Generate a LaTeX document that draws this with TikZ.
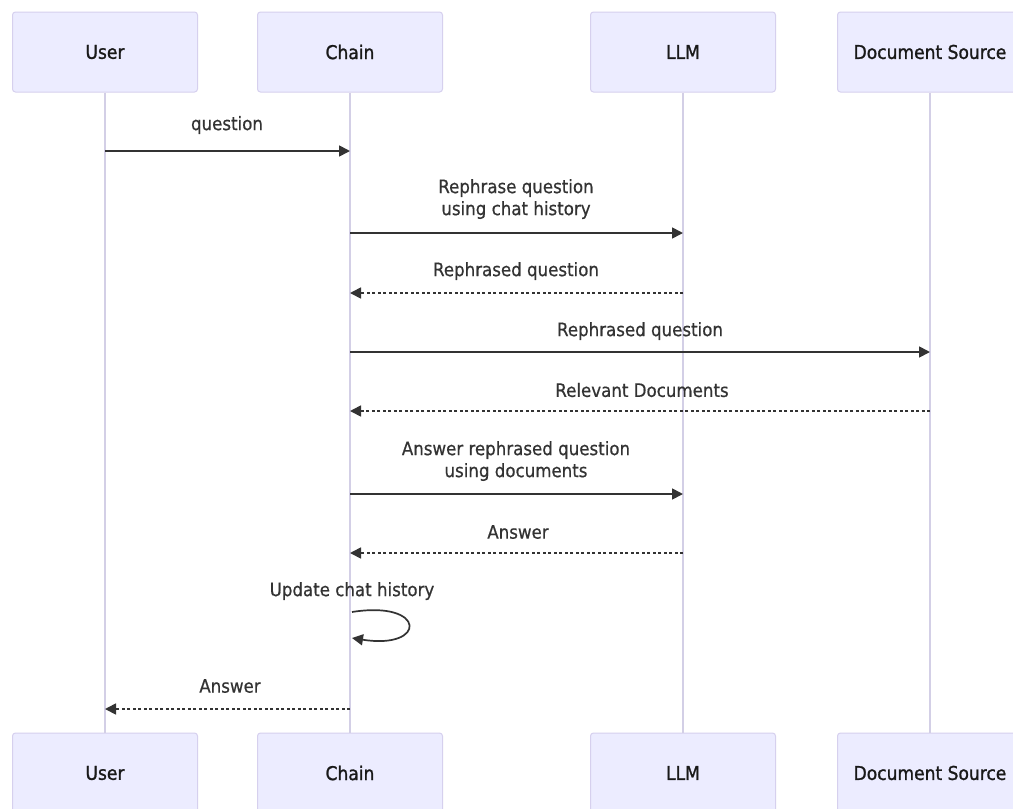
\documentclass[tikz,border=0pt]{standalone}
\usepackage{fontspec}
\setmainfont{DejaVu Sans}[FakeStretch=0.9]
\newfontfamily\actorfont{DejaVu Sans}[FakeStretch=0.9,FakeBold=1.2]
\newfontfamily\msgfont{DejaVu Sans}[FakeStretch=0.9,FakeBold=0.6]
\usetikzlibrary{arrows.meta}
\definecolor{actfill}{HTML}{ECECFF}
\definecolor{actdraw}{HTML}{D6D0EE}
\definecolor{lifeline}{HTML}{D3CFE6}
\definecolor{msg}{HTML}{333333}
\begin{document}
\begin{tikzpicture}[x=1pt,y=-1pt,
  actor/.style={draw=actdraw, fill=actfill, rounded corners=3pt, minimum width=185pt, minimum height=80pt, inner sep=0pt, font=\actorfont\fontsize{19}{22}\selectfont, text=black!90, line width=1pt},
  life/.style={draw=lifeline, line width=1.3pt},
  lbl/.style={font=\msgfont\fontsize{18.5}{22}\selectfont, text=msg, align=center, inner sep=0pt},
  req/.style={draw=msg, line width=1.7pt, -{Triangle[length=11pt,width=11pt]}},
  rep/.style={req, dash pattern=on 3pt off 2.5pt}
]
\useasboundingbox (0,0) rectangle (1013,809);
\clip (0,0) rectangle (1013,809);
\fill[white] (0,0) rectangle (1013,809);

% actors top
\node[actor] (userT) at (105,52) {User};
\node[actor] (chainT) at (350,52) {Chain};
\node[actor] (llmT) at (683,52) {LLM};
\node[actor] (docT) at (930,52) {Document Source};
% actors bottom
\node[actor] (userB) at (105,773) {User};
\node[actor] (chainB) at (350,773) {Chain};
\node[actor] (llmB) at (683,773) {LLM};
\node[actor] (docB) at (930,773) {Document Source};

% lifelines
\draw[life] (userT.south) -- (userB.north);
\draw[life] (chainT.south) -- (chainB.north);
\draw[life] (llmT.south) -- (llmB.north);
\draw[life] (docT.south) -- (docB.north);

% message anchor points
\coordinate (u1) at (105,151); \coordinate (c1) at (350,151);
\coordinate (c2) at (350,233); \coordinate (l2) at (683,233);
\coordinate (c3) at (350,293); \coordinate (l3) at (683,293);
\coordinate (c4) at (350,352); \coordinate (d4) at (930,352);
\coordinate (c5) at (350,411); \coordinate (d5) at (930,411);
\coordinate (c6) at (350,494); \coordinate (l6) at (683,494);
\coordinate (c7) at (350,553); \coordinate (l7) at (683,553);
\coordinate (s1) at (352,612); \coordinate (s2) at (352,638);
\coordinate (c9) at (350,709); \coordinate (u9) at (105,709);

% labels
\node[lbl] (m1) at (227,125) {question};
\node[lbl] (m2) at (516,199) {Rephrase question\\using chat history};
\node[lbl] (m3) at (516,271) {Rephrased question};
\node[lbl] (m4) at (640,331) {Rephrased question};
\node[lbl] (m5) at (642,390) {Relevant Documents};
\node[lbl] (m6) at (516,461) {Answer rephrased question\\using documents};
\node[lbl] (m7) at (518,532) {Answer};
\node[lbl] (m8) at (352,591) {Update chat history};
\node[lbl] (m9) at (230,686) {Answer};

% messages
\draw[req] (u1) -- (c1);
\draw[req] (c2) -- (l2);
\draw[rep] (l3) -- (c3);
\draw[req] (c4) -- (d4);
\draw[rep] (d5) -- (c5);
\draw[req] (c6) -- (l6);
\draw[rep] (l7) -- (c7);
\draw[req] (s1) .. controls (427,600) and (427,650) .. (s2);
\draw[rep] (c9) -- (u9);
\end{tikzpicture}
\end{document}
